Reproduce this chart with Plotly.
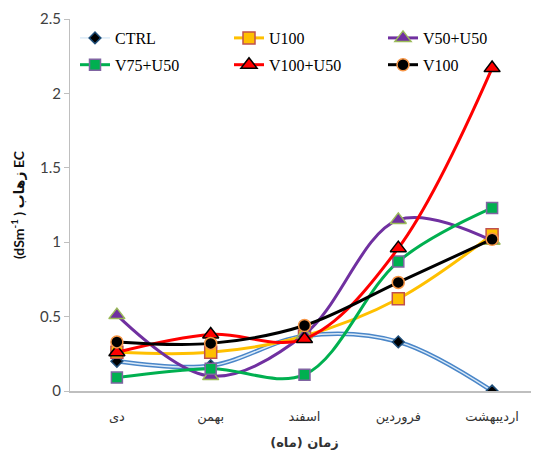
import plotly.graph_objects as go

months = ["دی", "بهمن", "اسفند", "فروردین", "اردیبهشت"]
ctrl = [0.20, 0.17, 0.37, 0.33, 0.00]
u100 = [0.26, 0.26, 0.37, 0.62, 1.05]
v50u50 = [0.51, 0.10, 0.38, 1.15, 1.01]
v75u50 = [0.09, 0.15, 0.11, 0.87, 1.23]
v100u50 = [0.26, 0.38, 0.35, 0.96, 2.17]
v100 = [0.33, 0.32, 0.44, 0.73, 1.02]

series = [
    ("CTRL", ctrl, "#9DC3E6", "diamond", "#000000", "#1F4E79", 9, "legend"),
    ("U100", u100, "#FFC000", "square", "#FFC000", "#C0504D", 12, "legend2"),
    ("V50+U50", v50u50, "#7030A0", "triangle-up", "#7030A0", "#9BBB59", 14, "legend3"),
    ("V75+U50", v75u50, "#00B050", "square", "#00B050", "#8064A2", 11, "legend"),
    ("V100+U50", v100u50, "#FF0000", "triangle-up", "#FF0000", "#000000", 14, "legend2"),
    ("V100", v100, "#000000", "circle", "#000000", "#F79646", 12, "legend3"),
]

fig = go.Figure()
for name, vals, lc, sym, mfill, mline, msize, lg in series:
    if name == "CTRL":
        fig.add_trace(go.Scatter(
            x=months, y=vals, mode="lines", showlegend=False,
            line=dict(color="#4A86C8", width=4.5, shape="spline", smoothing=1),
            hoverinfo="skip"))
        fig.add_trace(go.Scatter(
            x=months, y=vals, mode="lines+markers", name=name, legend=lg,
            legendgroup=name,
            line=dict(color="#DCEBF8", width=1.5, shape="spline", smoothing=1),
            marker=dict(symbol=sym, size=msize, color=mfill,
                        line=dict(color=mline, width=1.5))))
    else:
        fig.add_trace(go.Scatter(
            x=months, y=vals, mode="lines+markers", name=name, legend=lg,
            legendgroup=name,
            line=dict(color=lc, width=3, shape="spline", smoothing=1),
            marker=dict(symbol=sym, size=msize, color=mfill,
                        line=dict(color=mline, width=1.5))))

plot_w = 531 - 62
plot_h = 442 - 11 - 59
legend_common = dict(
    orientation="v", xanchor="left", yanchor="top",
    y=1 - 2 / plot_h,
    font=dict(family="Liberation Serif", size=16, color="#000000"),
    itemwidth=30, tracegroupgap=3, bgcolor="rgba(0,0,0,0)",
)

fig.update_layout(
    width=531, height=442,
    margin=dict(l=62, r=0, t=11, b=59),
    paper_bgcolor="white", plot_bgcolor="white",
    showlegend=True,
    legend=dict(x=5 / plot_w, **legend_common),
    legend2=dict(x=159 / plot_w, **legend_common),
    legend3=dict(x=313 / plot_w, **legend_common),
    xaxis=dict(
        type="category", range=[-0.5, 4.5],
        showline=True, linecolor="#BFBFBF", linewidth=1.5,
        ticks="", showgrid=False, zeroline=False,
        ticklabelstandoff=13,
        tickfont=dict(family="DejaVu Sans", size=13, color="#333333"),
        title=dict(text="<b>زمان (ماه)</b>", standoff=14,
                   font=dict(family="DejaVu Sans", size=13, color="#333333")),
    ),
    yaxis=dict(
        range=[0, 2.5], dtick=0.5,
        showline=True, linecolor="#BFBFBF", linewidth=1.2,
        ticks="outside", ticklen=5, tickcolor="#BFBFBF",
        showgrid=False, zeroline=False,
        tickfont=dict(family="Lato", size=15, color="#404040"),
        title=dict(text="<b>(dSm<sup>-1</sup> ) زهاب EC</b>", standoff=16,
                   font=dict(family="Lato, DejaVu Sans", size=14, color="#111111")),
    ),
)

fig.write_html("out.html")
